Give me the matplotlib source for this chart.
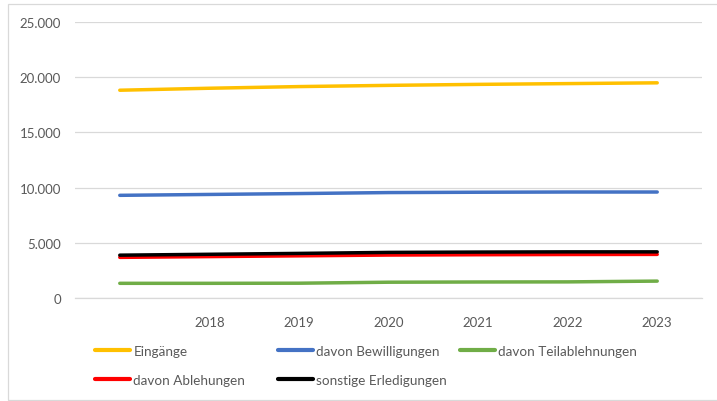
import matplotlib
matplotlib.use("Agg")
import matplotlib.pyplot as plt
from matplotlib.patches import Rectangle
from matplotlib.ticker import FuncFormatter

plt.rcParams['font.family'] = ['Lato', 'DejaVu Sans']

# Categories (first slot has no label)
categories = ["", "2018", "2019", "2020", "2021", "2022", "2023"]

eingaenge = [18820, 19000, 19150, 19260, 19350, 19420, 19490]
bewilligungen = [9300, 9380, 9460, 9550, 9580, 9600, 9600]
teilablehnungen = [1330, 1330, 1340, 1430, 1450, 1460, 1530]
ablehnungen = [3680, 3750, 3820, 3890, 3920, 3940, 3950]
sonstige = [3880, 3960, 4040, 4130, 4160, 4180, 4180]

labels = ["Eingänge", "davon Bewilligungen", "davon Teilablehnungen",
          "davon Ablehungen", "sonstige Erledigungen"]
colors = ["#FFC000", "#4472C4", "#70AD47", "#FF0000", "#000000"]

W, H = 717, 402
fig = plt.figure(figsize=(W / 100, H / 100), dpi=100)
fig.patch.set_facecolor("white")

# thin frame around the chart area
fig.add_artist(Rectangle((7.5 / W, 1.5 / H), (W + 20) / W, (H - 6.5) / H,
                         transform=fig.transFigure, fill=False,
                         edgecolor="#D9D9D9", linewidth=0.9))

ax = fig.add_axes([75 / W, 103 / H, 627 / W, 276 / H])
x = list(range(len(categories)))
series = [eingaenge, bewilligungen, teilablehnungen, ablehnungen, sonstige]
handles = []
for vals, lab, col in zip(series, labels, colors):
    h, = ax.plot(x, vals, color=col, linewidth=2.5, label=lab,
                 solid_capstyle="round")
    handles.append(h)
# keep the black line above the red one
handles[4].set_zorder(3)

ax.set_xlim(-0.5, len(categories) - 0.5)
ax.set_ylim(0, 25000)
ax.set_yticks(range(0, 25001, 5000))
ax.yaxis.set_major_formatter(FuncFormatter(lambda v, p: f"{int(v):,}".replace(",", ".")))
ax.set_xticks(x)
ax.set_xticklabels(categories)
ax.grid(axis="y", color="#D9D9D9", linewidth=0.9)
ax.set_axisbelow(True)
for s in ["top", "right", "left"]:
    ax.spines[s].set_visible(False)
ax.spines["bottom"].set_color("#D9D9D9")
ax.spines["bottom"].set_linewidth(0.9)
ax.tick_params(axis="both", length=0, colors="#595959", labelsize=9.5)
ax.tick_params(axis="y", pad=10)
ax.tick_params(axis="x", pad=13)

# legend laid out in three columns
cols = [([0, 3], 95), ([1, 4], 278), ([2], 460)]
for idx, xpos in cols:
    leg = fig.legend([handles[i] for i in idx], [labels[i] for i in idx],
                     loc="upper left", bbox_to_anchor=(xpos / W, 1 - 346 / H),
                     frameon=False, borderpad=0, borderaxespad=0,
                     handlelength=2.6, handletextpad=0.25, labelspacing=1.25,
                     fontsize=9.7, labelcolor="#595959")
    for ln in leg.get_lines():
        ln.set_linewidth(3)

fig.savefig("out.png", dpi=100)
